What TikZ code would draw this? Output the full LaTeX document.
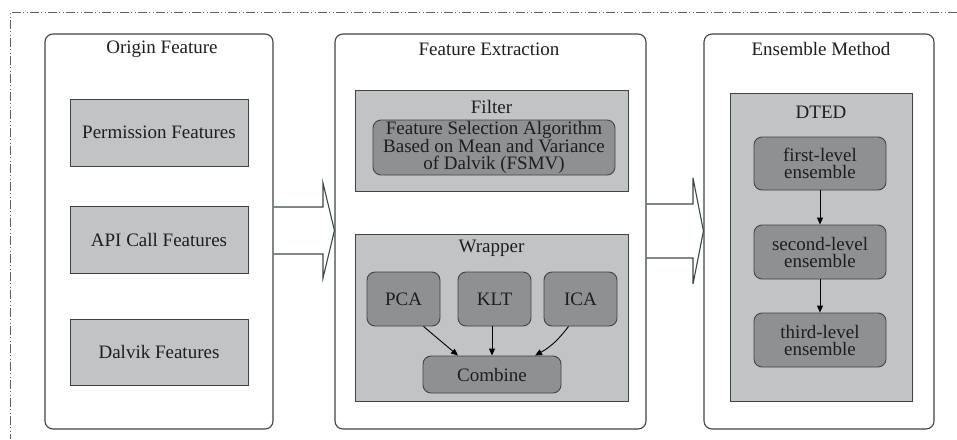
\documentclass[tikz,border=0pt]{standalone}
\usepackage{fontspec}
\setmainfont{Liberation Serif}
\usetikzlibrary{arrows.meta,calc}
\definecolor{edge}{HTML}{3C4646}
\definecolor{lightbox}{HTML}{C2C3C5}
\definecolor{darkbox}{HTML}{8F9092}
\definecolor{txt}{HTML}{1E1E1E}
\definecolor{frame}{HTML}{55636A}
\begin{document}
\begin{tikzpicture}[x=1pt,y=-1pt,
  every node/.style={text=txt,font=\fontsize{19}{17}\selectfont,align=center,inner sep=0pt},
  panel/.style={draw=edge,line width=1.1pt,fill=white,rounded corners=8pt,minimum width=#1,minimum height=395pt},
  graybox/.style={draw=edge,line width=0.9pt,fill=lightbox},
  roundbox/.style={draw=edge,line width=0.9pt,fill=darkbox,rounded corners=8pt},
  arr/.style={-{Triangle[length=7pt,width=6pt]},line width=0.9pt,draw=black},
  bigarrow/.style={draw=edge,line width=1.1pt,line join=miter}
]
\useasboundingbox (0,0) rectangle (957,439);
\draw[frame,line width=1pt,dash pattern=on 9pt off 2.2pt on 1.2pt off 2.2pt on 1.2pt off 2.2pt]
  (957,12.5) -- (10.5,12.5) -- (10.5,439);

% panels
\node[panel=228pt] (p1) at (159,231.5) {};
\node[panel=311pt] (p2) at (490.5,231.5) {};
\node[panel=230pt] (p3) at (819,231.5) {};
\node (t1) at (162,49) {Origin Feature};
\node (t2) at (489,49) {Feature Extraction};
\node (t3) at (821,49) {Ensemble Method};

% origin features
\node[graybox,minimum width=178pt,minimum height=67pt] (perm) at (159,132.5) {Permission Features};
\node[graybox,minimum width=178pt,minimum height=67pt] (api) at (159,239.5) {API Call Features};
\node[graybox,minimum width=178pt,minimum height=66pt] (dalvik) at (159,352) {Dalvik Features};

% feature extraction
\node[graybox,minimum width=273pt,minimum height=101pt] (filter) at (491.5,140.5) {};
\node (filterlab) at (491.5,107) {Filter};
\node[roundbox,minimum width=242pt,minimum height=55pt] (fsmv) at (494,147.5)
  {Feature Selection Algorithm\\Based on Mean and Variance\\of Dalvik (FSMV)};
\node[graybox,minimum width=273pt,minimum height=167pt] (wrapper) at (491.5,317.5) {};
\node (wraplab) at (491.5,248) {Wrapper};
\node[roundbox,minimum width=73pt,minimum height=54pt] (pca) at (403.5,299) {PCA};
\node[roundbox,minimum width=73pt,minimum height=54pt] (klt) at (494.5,299) {KLT};
\node[roundbox,minimum width=73pt,minimum height=54pt] (ica) at (580.5,299) {ICA};
\node[roundbox,minimum width=138pt,minimum height=37pt] (comb) at (492,374.5) {Combine};
\draw[arr] (pca.south) ++(20,0) coordinate (pcas) -- (comb.north -| 458,0);
\draw[arr] (klt.south -| comb.north) -- (comb.north);
\draw[arr] (ica.south) ++(-12,0) coordinate (icas) to[bend left=12] (comb.north -| 535,0);

% ensemble
\node[graybox,minimum width=182pt,minimum height=308pt] (dted) at (821,247) {};
\node (dtedlab) at (821,112) {DTED};
\node[roundbox,minimum width=132pt,minimum height=53pt] (e1) at (820,163.5) {first-level\\ensemble};
\node[roundbox,minimum width=132pt,minimum height=54pt] (e2) at (820,252) {second-level\\ensemble};
\node[roundbox,minimum width=132pt,minimum height=54pt] (e3) at (820,340) {third-level\\ensemble};
\draw[arr] (e1) -- (e2);
\draw[arr] (e2) -- (e3);

% big hollow arrows
\draw[bigarrow] (p1.east |- 0,207) -- (323,207) -- (323,183) -- (p2.west |- 0,230.5)
  -- (323,278) -- (323,254) -- (p1.east |- 0,254);
\draw[bigarrow] (p2.east |- 0,204) -- (693,204) -- (693,178) -- (p3.west |- 0,231)
  -- (693,284) -- (693,258) -- (p2.east |- 0,258);
\end{tikzpicture}
\end{document}
